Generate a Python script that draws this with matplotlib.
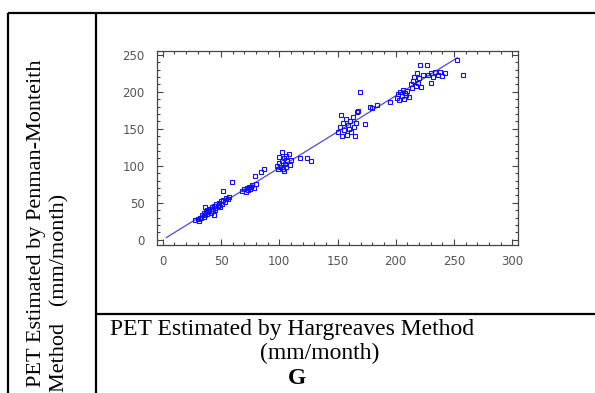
import matplotlib
matplotlib.use('Agg')
import matplotlib.pyplot as plt
import numpy as np
from matplotlib.ticker import MultipleLocator

# monthly PET (mm/month): Hargreaves (x) vs Penman-Monteith (y)
pet_hg = [28, 30, 31, 32, 33, 34, 35, 35, 36, 36, 37, 38, 38, 39, 40, 40, 41, 42, 42, 43,
          44, 44, 45, 45, 46, 47, 48, 48, 49, 50, 51, 52, 52, 53, 54, 56, 57, 59,
          68, 70, 71, 72, 73, 74, 75, 76, 77, 78, 79, 80, 84, 87,
          98, 99, 100, 100, 101, 102, 102, 103, 104, 104, 105, 106, 106, 107, 108, 109, 110,
          118, 124, 127,
          150, 152, 153, 154, 155, 156, 157, 158, 159, 160, 161, 162, 163, 164, 165, 166,
          167, 168, 174, 169, 178, 180, 184, 195,
          201, 202, 203, 204, 205, 206, 207, 208, 209, 210, 211,
          213, 214, 215, 216, 217, 218, 219, 220, 221, 222, 223, 227, 230,
          228, 230, 232, 234, 236, 238, 240, 242, 253, 258]
pet_pm = [27, 28, 26, 30, 29, 33, 31, 36, 34, 44, 38, 35, 40, 37, 42, 39, 36, 44, 41, 39,
          46, 34, 43, 40, 48, 45, 50, 47, 44, 52, 49, 54, 66, 51, 57, 55, 58, 78,
          66, 68, 65, 70, 67, 72, 69, 71, 74, 70, 86, 75, 92, 96,
          100, 96, 104, 112, 99, 107, 119, 95, 110, 93, 102, 113, 98, 106, 116, 101, 108,
          111, 110, 107,
          145, 152, 169, 140, 158, 148, 163, 142, 155, 150, 160, 146, 166, 153, 140, 158,
          173, 174, 156, 199, 180, 178, 182, 186,
          192, 197, 189, 200, 194, 203, 190, 198, 195, 201, 193,
          210, 205, 215, 220, 208, 225, 212, 218, 236, 207, 222, 236, 212,
          222, 225, 220, 226, 223, 227, 221, 225, 243, 222]

# fitted line end points
fit_x = [3, 253]
fit_y = [3, 246]

W, H = 595, 393
fig = plt.figure(figsize=(W / 100, H / 100), dpi=100, facecolor='white')

ax = fig.add_axes([157 / W, 1 - 245 / H, (518 - 157) / W, (245 - 51) / H])
ax.plot(fit_x, fit_y, color='#4a4ae0', lw=0.9, zorder=2)
ax.plot(pet_hg, pet_pm, 's', ms=3.2, mfc='none', mec='#1010ff', mew=0.8, zorder=3)
ax.set_xlim(-5, 305)
ax.set_ylim(-7, 255)
ax.xaxis.set_major_locator(MultipleLocator(50))
ax.yaxis.set_major_locator(MultipleLocator(50))
ax.xaxis.set_minor_locator(MultipleLocator(10))
ax.yaxis.set_minor_locator(MultipleLocator(10))
ax.tick_params(which='both', direction='in', top=True, right=True, color='#444444',
               width=0.8, labelsize=8.5, labelcolor='#555555')
ax.tick_params(which='major', length=4)
ax.tick_params(which='minor', length=2)
ax.tick_params(axis='y', pad=9)
ax.tick_params(axis='x', pad=7)
for s in ax.spines.values():
    s.set_color('#444444')
    s.set_linewidth(0.9)

# table frame and captions, in pixel coordinates
tab = fig.add_axes([0, 0, 1, 1], zorder=-1)
tab.set_xlim(0, W)
tab.set_ylim(H, 0)
tab.axis('off')
lw = 1.6
tab.plot([8, W], [13, 13], color='black', lw=lw, solid_capstyle='butt')
tab.plot([8, 8], [13, H], color='black', lw=lw, solid_capstyle='butt')
tab.plot([96, 96], [13, H], color='black', lw=lw, solid_capstyle='butt')
tab.plot([96, W], [314, 314], color='black', lw=lw, solid_capstyle='butt')

serif = 'Liberation Serif'
tab.text(37, 387, 'PET Estimated by Penman-Monteith', rotation=90, ha='center', va='bottom',
         family=serif, fontsize=16)
tab.text(60, 392, 'Method   (mm/month)', rotation=90, ha='center', va='bottom',
         family=serif, fontsize=16)
fs = 17
tab.text(110, 335, 'PET Estimated by Hargreaves Method', ha='left', va='baseline',
         family=serif, fontsize=fs)
tab.text(320, 359, '(mm/month)', ha='center', va='baseline', family=serif, fontsize=fs)
tab.text(297, 384, 'G', ha='center', va='baseline', family=serif, fontsize=fs,
         fontweight='bold')

fig.savefig('out.png', dpi=100, facecolor='white')
